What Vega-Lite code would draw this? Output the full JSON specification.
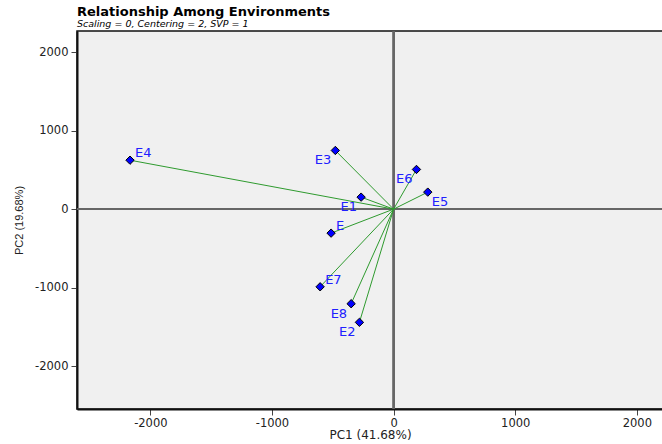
{
  "$schema": "https://vega.github.io/schema/vega-lite/v6.json",
  "autosize": "none",
  "width": 586,
  "height": 378,
  "padding": {"left": 77, "top": 31, "right": 0, "bottom": 35},
  "background": "white",
  "title": {
    "text": "Relationship Among Environments",
    "subtitle": "Scaling = 0, Centering = 2, SVP = 1",
    "anchor": "start",
    "frame": "group",
    "font": "DejaVu Sans",
    "fontSize": 13,
    "fontWeight": "bold",
    "color": "#000",
    "subtitleFont": "DejaVu Sans",
    "subtitleFontSize": 9.5,
    "subtitleFontStyle": "italic",
    "subtitleColor": "#000",
    "subtitlePadding": 0,
    "offset": 2
  },
  "config": {
    "view": {"fill": "#f0f0f0", "stroke": "#111", "strokeWidth": 1.5},
    "axis": {
      "labelFont": "DejaVu Sans",
      "labelFontSize": 11.5,
      "labelColor": "#222",
      "titleFont": "DejaVu Sans",
      "titleFontSize": 12,
      "titleFontWeight": "normal",
      "titleColor": "#222",
      "domainColor": "#111",
      "domainWidth": 2,
      "tickColor": "#444",
      "tickSize": 6,
      "grid": false
    }
  },
  "data": {
    "values": [
      {"env": "E", "pc1": -514, "pc2": -306},
      {"env": "E1", "pc1": -267, "pc2": 153},
      {"env": "E2", "pc1": -281, "pc2": -1443},
      {"env": "E3", "pc1": -479, "pc2": 748},
      {"env": "E4", "pc1": -2167, "pc2": 624},
      {"env": "E5", "pc1": 281, "pc2": 217},
      {"env": "E6", "pc1": 188, "pc2": 506},
      {"env": "E7", "pc1": -604, "pc2": -990},
      {"env": "E8", "pc1": -349, "pc2": -1206}
    ]
  },
  "encoding": {
    "x": {
      "field": "pc1", "type": "quantitative",
      "scale": {"domain": [-2603, 2215], "nice": false, "zero": false},
      "axis": {"values": [-2000, -1000, 0, 1000, 2000], "labelExpr": "replace(format(datum.value, 'd'), '−', '-')", "title": "PC1 (41.68%)", "titlePadding": 1, "labelPadding": 2}
    },
    "y": {
      "field": "pc2", "type": "quantitative",
      "scale": {"domain": [-2548, 2271], "nice": false, "zero": false},
      "axis": {"values": [-2000, -1000, 0, 1000, 2000], "labelExpr": "replace(format(datum.value, 'd'), '−', '-')", "title": "PC2 (19.68%)", "titleFont": "Liberation Sans", "titleFontSize": 11, "titlePadding": 10, "labelPadding": 3}
    }
  },
  "layer": [
    {
      "mark": {"type": "rule", "color": "#666", "strokeWidth": 1.5},
      "encoding": {"x": {"datum": 0}, "y": null}
    },
    {
      "mark": {"type": "rule", "color": "#666", "strokeWidth": 1.5},
      "encoding": {"y": {"datum": 0}, "x": null}
    },
    {
      "mark": {"type": "rule", "color": "#2e9a2e", "strokeWidth": 1},
      "encoding": {"x2": {"datum": 0}, "y2": {"datum": 0}}
    },
    {
      "mark": {"type": "point", "shape": "diamond", "filled": true, "fill": "#0000ff", "stroke": "#000", "strokeWidth": 1, "size": 70, "opacity": 1}
    },
    {
      "transform": [{"filter": "indexof(['E4','E','E7'], datum.env) >= 0"}],
      "mark": {"type": "text", "align": "left", "baseline": "middle", "dx": 5, "dy": -7, "font": "DejaVu Sans", "fontSize": 13, "fill": "#2020ff"},
      "encoding": {"text": {"field": "env"}}
    },
    {
      "transform": [{"filter": "indexof(['E3','E1','E6','E8','E2'], datum.env) >= 0"}],
      "mark": {"type": "text", "align": "right", "baseline": "middle", "dx": -4, "dy": 10, "font": "DejaVu Sans", "fontSize": 13, "fill": "#2020ff"},
      "encoding": {"text": {"field": "env"}}
    },
    {
      "transform": [{"filter": "datum.env == 'E5'"}],
      "mark": {"type": "text", "align": "left", "baseline": "middle", "dx": 4, "dy": 10, "font": "DejaVu Sans", "fontSize": 13, "fill": "#2020ff"},
      "encoding": {"text": {"field": "env"}}
    }
  ]
}
